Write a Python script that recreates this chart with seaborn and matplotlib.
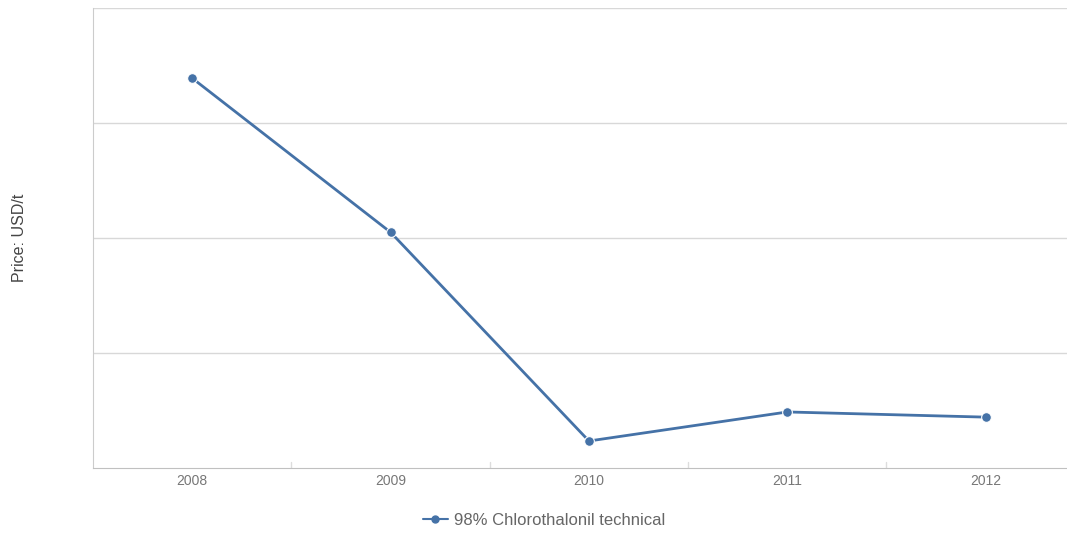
import pandas as pd
import seaborn as sns
import matplotlib.pyplot as plt

# data (y tick labels are not shown in the source)
years = ['2008', '2009', '2010', '2011', '2012']
prices = [6780, 4100, 470, 975, 885]
series_name = '98% Chlorothalonil technical'

df = pd.DataFrame({'Year': years, 'Price': prices, 'Series': series_name})
df['pos'] = range(len(years))

sns.set_style('white')
plt.rcParams['font.family'] = ['Liberation Sans', 'DejaVu Sans']

fig = plt.figure(figsize=(10.67, 5.35), dpi=100)
ax = fig.add_axes([0.0872, 0.1252, 0.9128, 0.8598])

sns.lineplot(data=df, x='pos', y='Price', hue='Series', palette=['#4572A7'],
             marker='o', markersize=7, markeredgecolor='white', markeredgewidth=0.8,
             linewidth=2.0, ax=ax, legend=False)

ax.set_xlim(-0.5, 4.41)
ax.set_ylim(0, 8000)
ax.set_yticks([2000, 4000, 6000, 8000])
ax.set_yticklabels([])
ax.tick_params(axis='y', length=0)
ax.grid(axis='y', color='#d8d8d8', linewidth=1)
ax.set_axisbelow(True)

ax.set_xticks(range(len(years)))
ax.set_xticklabels(years, color='#777777', fontsize=10)
ax.tick_params(axis='x', length=0, pad=4)
# category boundary tick marks
for b in [0.5, 1.5, 2.5, 3.5]:
    ax.plot([b, b], [0, 100], color='#dddddd', linewidth=1, zorder=1)

for side in ['top', 'right']:
    ax.spines[side].set_visible(False)
ax.spines['left'].set_color('#cccccc')
ax.spines['bottom'].set_color('#c0c0c0')

ax.set_xlabel('')
ax.set_ylabel('Price: USD/t', fontsize=11.5, color='#444444')
ax.yaxis.set_label_coords(-0.068, 0.5)

h, = ax.plot([], [], color='#4572A7', marker='o', markersize=5, linewidth=1.5)
fig.legend([h], [series_name], loc='center', bbox_to_anchor=(0.51, 0.027),
           frameon=False, fontsize=12, labelcolor='#666666', handlelength=1.5,
           handletextpad=0.4)

fig.savefig('out.png', dpi=100)
